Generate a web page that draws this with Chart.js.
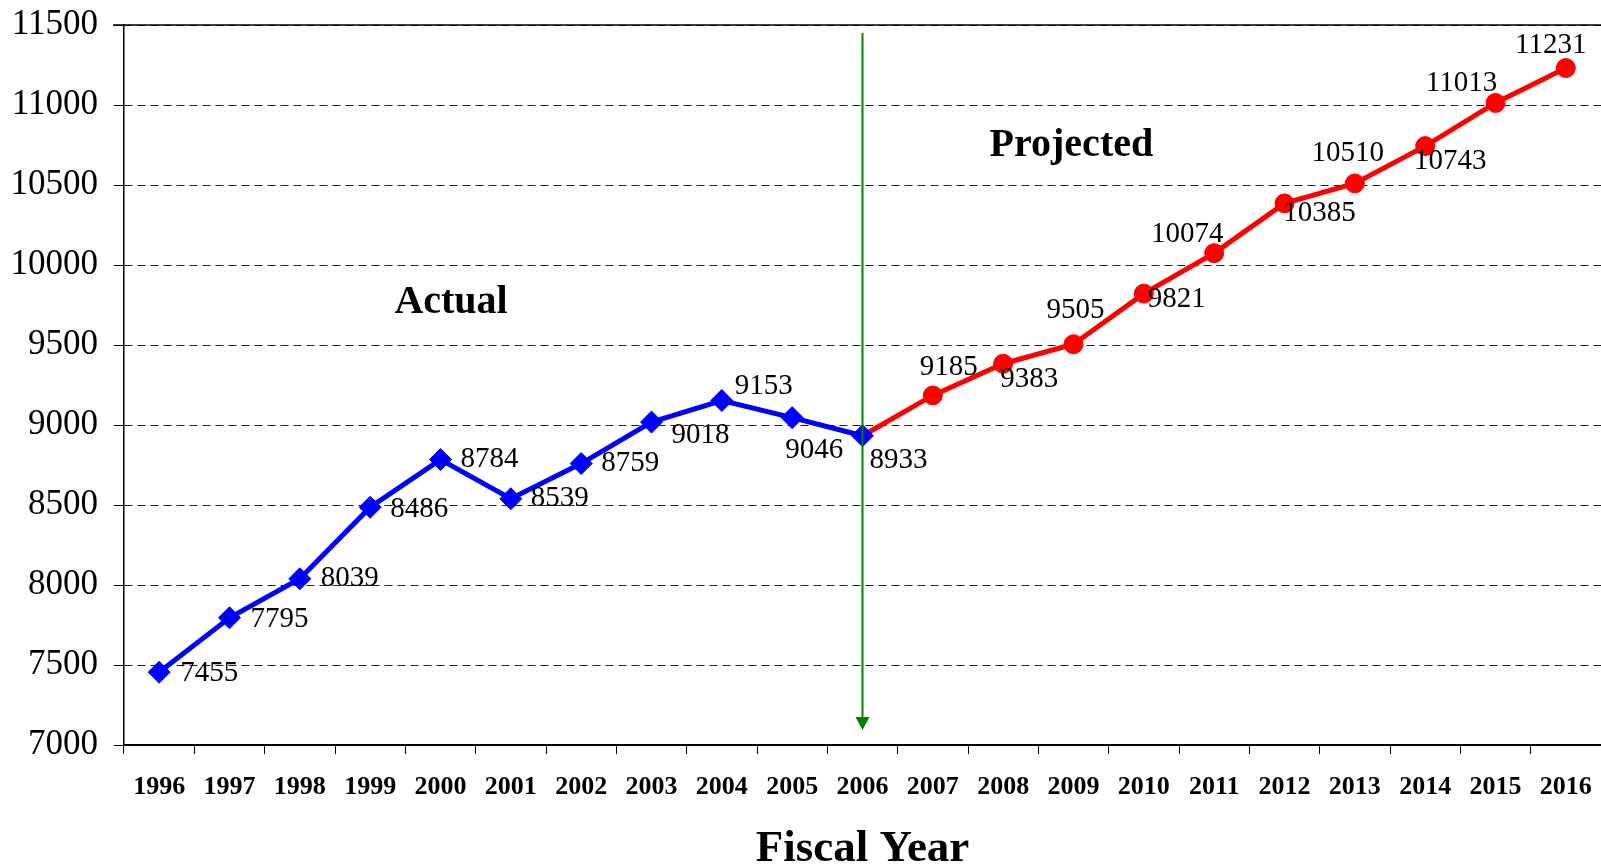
<!DOCTYPE html>
<html>
<head>
<meta charset="utf-8">
<script src="https://cdn.jsdelivr.net/npm/chart.js@4.4.1/dist/chart.umd.min.js"></script>
<style>
  html, body { margin: 0; padding: 0; background: #fff; overflow: hidden; }
  #wrap { width: 1601px; height: 868px; }
</style>
</head>
<body>
<div id="wrap"><canvas id="fyChart"></canvas></div>
<script>
const years = ['1996','1997','1998','1999','2000','2001','2002','2003','2004','2005','2006',
               '2007','2008','2009','2010','2011','2012','2013','2014','2015','2016'];
const actual = [7455, 7795, 8039, 8486, 8784, 8539, 8759, 9018, 9153, 9046, 8933];
const projected = [8933, 9185, 9383, 9505, 9821, 10074, 10385, 10510, 10743, 11013, 11231];
const yMin = 7000, yMax = 11500, yStep = 500;

// label offset (dx, dy) from each point, by year
const labelOffsets = [
  [50, 1], [50, 2], [50, 0], [49, 2], [49, 0], [49, 0], [49, 0], [49, 13], [42, -14], [22, 33], [36, 25],
  [16, -28], [26, 16], [2, -34], [33, 6], [-27, -19], [35, 10], [-7, -30], [25, 15], [-34, -20], [-15, -23]
];

const serif = "'Liberation Serif', 'Times New Roman', serif";
const splitIdx = actual.length - 1;
const actualSeries = years.map((y, i) => i < actual.length ? actual[i] : null);
const projSeries = years.map((y, i) => i >= splitIdx ? projected[i - splitIdx] : null);

const valueLabels = {
  id: 'valueLabels',
  afterDatasetsDraw(chart) {
    const ctx = chart.ctx;
    ctx.save();
    ctx.font = '29px ' + serif;
    ctx.fillStyle = '#000';
    ctx.textAlign = 'center';
    ctx.textBaseline = 'middle';
    chart.data.datasets.forEach((ds, di) => {
      const meta = chart.getDatasetMeta(di);
      meta.data.forEach((pt, i) => {
        const v = ds.data[i];
        if (v === null) return;
        if (di === 1 && i === splitIdx) return;
        const off = labelOffsets[i];
        ctx.fillText(String(v), pt.x + off[0], pt.y + off[1]);
      });
    });
    ctx.restore();
  }
};

const extras = {
  id: 'extras',
  afterDraw(chart) {
    const ctx = chart.ctx;
    const xs = chart.scales.x, ys = chart.scales.y;
    const area = chart.chartArea;
    // top frame line
    ctx.save();
    ctx.strokeStyle = '#000';
    ctx.lineWidth = 1.5;
    ctx.beginPath();
    ctx.moveTo(area.left - 11, area.top);
    ctx.lineTo(area.right, area.top);
    ctx.stroke();
    // green divider arrow
    const ax = xs.getPixelForValue(splitIdx);
    const top = area.top + 8, tip = area.bottom - 15;
    ctx.strokeStyle = '#008000';
    ctx.fillStyle = '#008000';
    ctx.lineWidth = 2;
    ctx.beginPath();
    ctx.moveTo(ax, top);
    ctx.lineTo(ax, tip - 10);
    ctx.stroke();
    ctx.beginPath();
    ctx.moveTo(ax - 7, tip - 13);
    ctx.lineTo(ax + 7, tip - 13);
    ctx.lineTo(ax, tip);
    ctx.closePath();
    ctx.fill();
    // region captions
    ctx.fillStyle = '#000';
    ctx.font = 'bold 40px ' + serif;
    ctx.textAlign = 'center';
    ctx.textBaseline = 'middle';
    ctx.fillText('Actual', xs.getPixelForValue(4.15), ys.getPixelForValue(9765));
    ctx.fillText('Projected', xs.getPixelForValue(12.97), ys.getPixelForValue(10745));
    ctx.restore();
  }
};

const ctx = document.getElementById('fyChart').getContext('2d');
const chart = new Chart(ctx, {
  type: 'line',
  data: {
    labels: years,
    datasets: [
      {
        label: 'Actual',
        data: actualSeries,
        borderColor: '#0000ff',
        backgroundColor: '#0000ff',
        borderWidth: 5,
        pointStyle: 'rectRot',
        pointRadius: 11,
        pointBorderWidth: 1,
        order: 0
      },
      {
        label: 'Projected',
        data: projSeries,
        borderColor: '#ff0000',
        backgroundColor: '#ff0000',
        borderWidth: 5,
        pointStyle: 'circle',
        pointRadius: years.map((y, i) => i === splitIdx ? 0 : 9.5),
        pointBorderWidth: 1,
        order: 1
      }
    ]
  },
  options: {
    responsive: true,
    maintainAspectRatio: false,
    animation: false,
    layout: { autoPadding: false, padding: { top: 25, right: 0, left: 0, bottom: 0 } },
    plugins: {
      legend: { display: false },
      tooltip: { enabled: false }
    },
    scales: {
      x: {
        offset: true,
        grid: {
          offset: true,
          drawOnChartArea: false,
          drawTicks: true,
          tickLength: 9,
          color: '#000',
          lineWidth: 1
        },
        border: { display: true, color: '#000', width: 2 },
        ticks: {
          color: '#000',
          font: { family: serif, size: 26, weight: 'bold' },
          padding: 18,
          maxRotation: 0,
          autoSkip: false
        },
        title: {
          display: true,
          text: 'Fiscal Year',
          color: '#000',
          font: { family: serif, size: 45, weight: 'bold', lineHeight: 0.82 },
          padding: { top: 0, bottom: 0 }
        },
        afterFit(scale) {
          scale.height = 123;
          scale.paddingLeft = 0;
          scale.paddingRight = 0;
        }
      },
      y: {
        min: yMin,
        max: yMax,
        ticks: {
          stepSize: yStep,
          color: '#000',
          font: { family: serif, size: 35 },
          padding: 16,
          callback: (v) => String(v)
        },
        grid: {
          color: '#222',
          lineWidth: 1,
          tickLength: 10,
          tickColor: '#000',
          tickBorderDash: []
        },
        border: { display: true, color: '#000', width: 1.5, dash: [8, 5] },
        afterFit(scale) {
          scale.width = 124;
          scale.paddingTop = 0;
          scale.paddingBottom = 0;
        }
      }
    }
  },
  plugins: [valueLabels, extras]
});
</script>
</body>
</html>
